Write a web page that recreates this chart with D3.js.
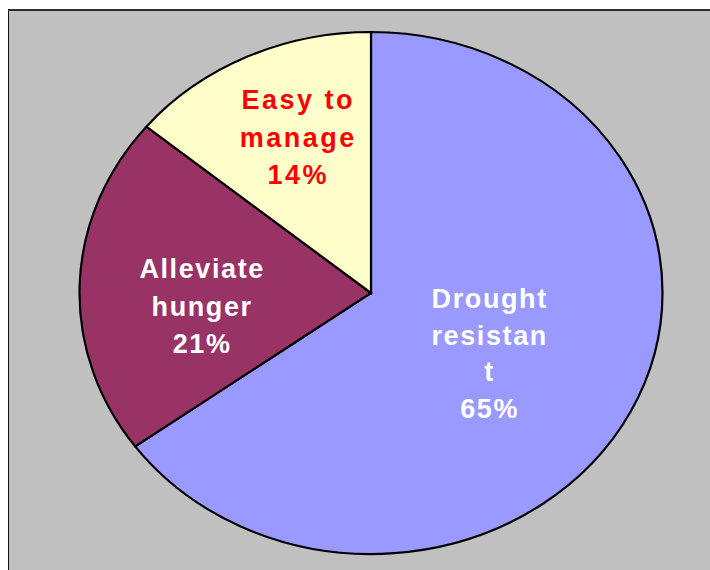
<!DOCTYPE html>
<html>
<head>
<meta charset="utf-8">
<script src="https://cdn.jsdelivr.net/npm/d3@7"></script>
<style>
  html, body { margin: 0; padding: 0; background: #ffffff; }
  svg { display: block; }
</style>
</head>
<body>
<svg id="chart" width="710" height="570"></svg>
<script>
// Reasons for growing the crop (share of respondents, %)
const categories = ["Drought resistant", "Alleviate hunger", "Easy to manage"];
const values = [65, 21, 14];
// Category names as they wrap inside each slice
const labelLines = [["Drought", "resistan", "t"], ["Alleviate", "hunger"], ["Easy to", "manage"]];
const sliceColors = ["#9999ff", "#993366", "#ffffcc"];
const labelColors = ["#ffffff", "#ffffff", "#ff0000"];

const svg = d3.select("#chart");
const W = 710, H = 570;

// Plot area frame
svg.append("rect")
  .attr("x", 9).attr("y", 10)
  .attr("width", W).attr("height", H)
  .attr("fill", "#c0c0c0");
svg.append("line")
  .attr("x1", 8).attr("x2", W).attr("y1", 10).attr("y2", 10)
  .attr("stroke", "#2a2a2a").attr("stroke-width", 2);
svg.append("line")
  .attr("x1", 8.5).attr("x2", 8.5).attr("y1", 9).attr("y2", H)
  .attr("stroke", "#111").attr("stroke-width", 1);

// The pie is drawn as a unit-100 circle stretched into an ellipse
const cx = 371, cy = 293, rx = 291.5, ry = 261;
const R = 100;

const pie = d3.pie().sort(null).value(d => d);
const arcs = pie(values);
const arc = d3.arc().innerRadius(0).outerRadius(R);

const g = svg.append("g")
  .attr("transform", `translate(${cx},${cy}) scale(${rx / R},${ry / R})`);

g.selectAll("path")
  .data(arcs)
  .join("path")
  .attr("d", arc)
  .attr("fill", (d, i) => sliceColors[i])
  .attr("stroke", "#000")
  .attr("stroke-width", 2.2)
  .attr("stroke-linejoin", "miter")
  .attr("vector-effect", "non-scaling-stroke");

// Label placement: point at half radius along the slice's mid angle, then nudged
const nudge = [[-12, 1], [-24, 17], [-12, -38]];
const fontSizes = [27, 27, 27];
const spacing = [1.6, 1.6, 2.5];
const lineH = [36.7, 37.5, 37.5];

arcs.forEach((a, i) => {
  const mid = (a.startAngle + a.endAngle) / 2;
  const px = cx + 0.5 * rx * Math.sin(mid) + nudge[i][0];
  const py = cy - 0.5 * ry * Math.cos(mid) + nudge[i][1];
  const lines = labelLines[i].concat([d3.format(".0f")(values[i]) + "%"]);
  const n = lines.length;
  const fs = fontSizes[i];
  const t = svg.append("text")
    .attr("text-anchor", "middle")
    .attr("font-family", "'Liberation Sans', Arial, sans-serif")
    .attr("font-weight", "bold")
    .attr("font-size", fs)
    .attr("letter-spacing", spacing[i])
    .attr("fill", labelColors[i]);
  lines.forEach((s, k) => {
    t.append("tspan")
      .attr("x", px + spacing[i] / 2)
      .attr("y", py + (k - (n - 1) / 2) * lineH[i] + 0.36 * fs)
      .text(s);
  });
});
</script>
</body>
</html>
